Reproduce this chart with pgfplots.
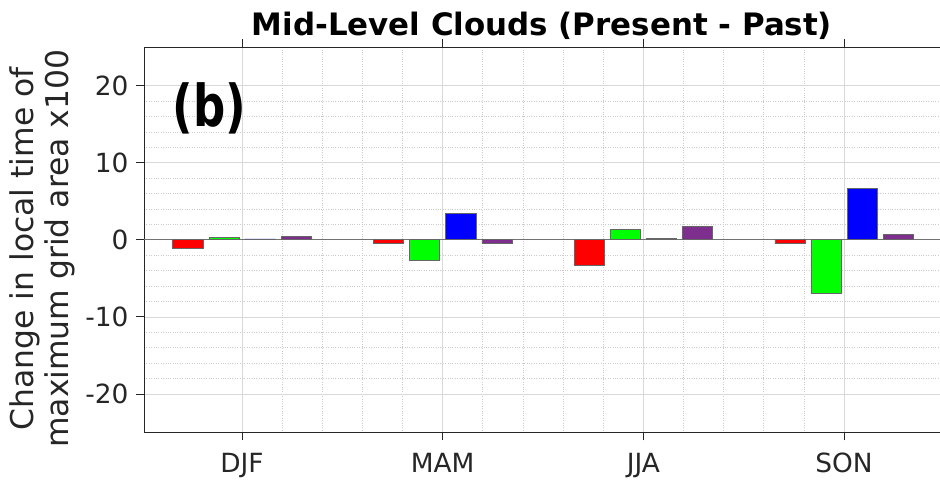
\documentclass[border=0pt]{standalone}
\usepackage{fontspec}
\setmainfont{DejaVu Sans}
\usepackage{pgfplots}
\pgfplotsset{compat=1.18}
\definecolor{tickgray}{HTML}{262626}
\definecolor{mpurple}{HTML}{7E2F8E}
\definecolor{mgreen}{HTML}{00FF00}
\definecolor{mred}{HTML}{FF0000}
\definecolor{mblue}{HTML}{0000FF}
\begin{document}
\begin{tikzpicture}
\begin{axis}[
  scale only axis,
  width=796bp, height=385.5bp,
  xmin=0.512, xmax=4.478,
  ymin=-25, ymax=25,
  xtick={1,2,3,4},
  xticklabels={DJF,MAM,JJA,SON},
  ytick={-20,-10,0,10,20},
  minor x tick num=4,
  minor y tick num=4,
  tick align=outside,
  major tick length=8bp,
  minor tick length=0pt,
  tick style={color=tickgray, line width=0.8bp},
  axis line style={color=tickgray, line width=0.9bp},
  grid=both,
  major grid style={color=black!15, line width=0.6bp},
  minor grid style={color=black!20, dotted, line width=0.6bp},
  ticklabel style={font=\fontsize{26.5}{30}\selectfont, text=tickgray},
  xticklabel style={yshift=-9bp},
  yticklabel style={xshift=-4bp},
  /pgf/number format/assume math mode=true,
  extra y ticks={0}, extra y tick labels={},
  extra y tick style={major grid style={color=black!55, solid, line width=0.9bp}, major tick length=0pt},
  ybar, bar width=0.15,
]
\addplot[fill=mred, draw=black!60, line width=0.5bp, bar shift=-0.27] coordinates {(1,-1.08) (2,-0.43) (3,-3.25) (4,-0.49)};
\addplot[fill=mgreen, draw=black!60, line width=0.5bp, bar shift=-0.09] coordinates {(1,0.35) (2,-2.7) (3,1.3) (4,-6.95)};
\addplot[fill=mblue, draw=black!60, line width=0.5bp, bar shift=0.09] coordinates {(1,0.1) (2,3.42) (3,0.13) (4,6.64)};
\addplot[fill=mpurple, draw=black!60, line width=0.5bp, bar shift=0.27] coordinates {(1,0.48) (2,-0.48) (3,1.73) (4,0.65)};
\coordinate (SW) at (rel axis cs:0,0);
\coordinate (NE) at (rel axis cs:1,1);
\coordinate (N) at (rel axis cs:0.5,1);
\coordinate (NW) at (rel axis cs:0,1);
\coordinate (W) at (rel axis cs:0,0.5);
\end{axis}
\node[anchor=base, inner sep=0pt, font=\fontsize{31}{34}\selectfont\bfseries] at ([yshift=11bp]N) {Mid-Level Clouds (Present - Past)};
\node[anchor=base west, inner sep=0pt, font=\fontsize{58}{60}\selectfont\bfseries] at ([xshift=28.5bp, yshift=-80bp]NW) {\scalebox{0.78}[1]{(b)}};
\node[rotate=90, align=center, text=tickgray, font=\fontsize{31.5}{35}\selectfont] at ([xshift=-102bp, yshift=-9bp]W) {Change in local time of\\maximum grid area x100};
\pgfresetboundingbox
\path[use as bounding box] ([xshift=-144bp,yshift=-53.5bp]SW) rectangle ([yshift=47bp]NE);
\end{tikzpicture}
\end{document}
